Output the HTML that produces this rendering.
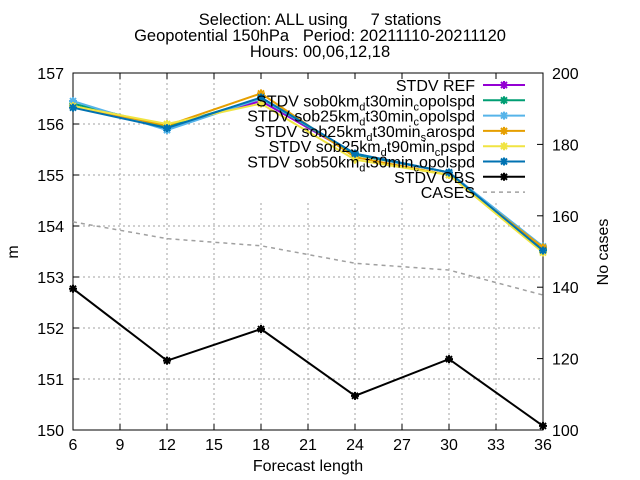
<!DOCTYPE html>
<html><head><meta charset="utf-8"><style>body{margin:0;background:#fff}svg{display:block;font-family:"Liberation Sans",sans-serif}</style></head>
<body>
<svg id="chart" width="640" height="480" xmlns="http://www.w3.org/2000/svg">
<g font-size="16.5" text-anchor="middle" fill="#000">
<text x="320" y="25" xml:space="preserve">Selection: ALL using     7 stations</text>
<text x="320" y="41" xml:space="preserve">Geopotential 150hPa   Period: 20211110-20211120</text>
<text x="320" y="57">Hours: 00,06,12,18</text>
</g>
<g id="grid"></g>
<rect x="231" y="74" width="311" height="126" fill="#fff"/>
<g id="axes"></g>
<g id="series"></g>
<g id="legend" font-size="16"></g>
<text x="308" y="471" font-size="16" text-anchor="middle">Forecast length</text>
<text transform="translate(18,252) rotate(-90)" font-size="16" text-anchor="middle">m</text>
<text transform="translate(608,252) rotate(-90)" font-size="16" text-anchor="middle">No cases</text>
</svg>
<script>
const xs=[6,12,18,24,30,36];
const ref=[156.35,155.95,156.45,155.40,155.05,153.55];
const sob0=[156.40,155.95,156.50,155.40,155.05,153.55];
const sob25=[156.45,155.88,156.50,155.42,155.05,153.60];
const saro=[156.35,155.97,156.60,155.35,155.00,153.58];
const t90=[156.35,156.00,156.40,155.30,155.00,153.48];
const sob50=[156.32,155.92,156.52,155.42,155.05,153.52];
const obs=[152.77,151.36,151.98,150.67,151.39,150.08];
const cases=[158.3,153.6,151.6,146.7,144.8,137.8];
const xTicks=[6,9,12,15,18,21,24,27,30,33,36];
const yTicks=[150,151,152,153,154,155,156,157];
const y2Ticks=[100,120,140,160,180,200];
const L=73,R=543,T=73,B=430;
const X=v=>L+(v-6)/30*(R-L);
const Y=v=>B-(v-150)/7*(B-T);
const Y2=v=>B-(v-100)/100*(B-T);
const NS="http://www.w3.org/2000/svg";
function mk(t,a,p){const e=document.createElementNS(NS,t);for(const k in a)e.setAttribute(k,a[k]);p.appendChild(e);return e;}
const grid=document.getElementById('grid'),axes=document.getElementById('axes'),ser=document.getElementById('series'),leg=document.getElementById('legend');
xTicks.forEach(t=>{const x=X(t);
const g=mk('line',{x1:x,x2:x,y1:T,y2:B,stroke:'#a0a0a0','stroke-dasharray':'2,3','stroke-width':1},grid);


mk('line',{x1:x,x2:x,y1:B,y2:B-6,stroke:'#000'},axes);mk('line',{x1:x,x2:x,y1:T,y2:T+6,stroke:'#000'},axes);
const l=mk('text',{x:x,y:B+20,'font-size':16,'text-anchor':'middle'},axes);l.textContent=t;

});
yTicks.forEach(t=>{const y=Y(t);
const g=mk('line',{x1:L,x2:R,y1:y,y2:y,stroke:'#a0a0a0','stroke-dasharray':'2,3','stroke-width':1},grid);


mk('line',{x1:L,x2:L+6,y1:y,y2:y,stroke:'#000'},axes);
const l=mk('text',{x:L-9,y:y+6,'font-size':16,'text-anchor':'end'},axes);l.textContent=t;

});
y2Ticks.forEach(t=>{const y=Y2(t);
mk('line',{x1:R,x2:R-6,y1:y,y2:y,stroke:'#000'},axes);
const l=mk('text',{x:R+9,y:y+6,'font-size':16},axes);l.textContent=t;

});
const fr=mk('rect',{x:L,y:T,width:R-L,height:B-T,fill:'none',stroke:'#000'},axes);


function star(x,y,c,p){mk('path',{d:`M${x-4},${y}h8M${x},${y-4}v8M${x-3},${y-3}l6,6M${x-3},${y+3}l6,-6`,stroke:c,'stroke-width':2,fill:'none'},p);}
function line(vals,c,name,yf,dash){const g=mk('g',{},ser);


const pts=vals.map((v,i)=>X(xs[i])+','+yf(v)).join(' ');
const a={points:pts,fill:'none',stroke:c,'stroke-width':dash?1.5:2};if(dash)a['stroke-dasharray']='4,4';mk('polyline',a,g);
if(!dash)vals.forEach((v,i)=>star(X(xs[i]),yf(v),c,g));}
line(cases,'#a0a0a0','series-cases',Y2,true);
line(obs,'#000','series-stdv-obs',Y);
line(ref,'#9400d3','series-stdv-ref',Y);
line(sob0,'#009e73','series-sob0km',Y);
line(sob25,'#56b4e9','series-sob25km',Y);
line(saro,'#e69f00','series-sob25km-saro',Y);
line(t90,'#f0e442','series-sob25km-t90',Y);
line(sob50,'#0072b2','series-sob50km',Y);
const items=[['STDV REF','#9400d3'],['STDV sob0km<sub>d</sub>t30min<sub>c</sub>opolspd','#009e73'],['STDV sob25km<sub>d</sub>t30min<sub>c</sub>opolspd','#56b4e9'],['STDV sob25km<sub>d</sub>t30min<sub>s</sub>arospd','#e69f00'],['STDV sob25km<sub>d</sub>t90min<sub>c</sub>pspd','#f0e442'],['STDV sob50km<sub>d</sub>t30min<sub>c</sub>opolspd','#0072b2'],['STDV OBS','#000'],['CASES','#a0a0a0']];
items.forEach((it,i)=>{const y=85+i*15.3;const g=mk('g',{},leg);


const t=mk('text',{x:475,y:y+6,'text-anchor':'end'},g);
it[0].split(/(<sub>.<\/sub>)/).forEach(p=>{if(!p)return;const m=p.match(/<sub>(.)<\/sub>/);const s=mk('tspan',{},t);
if(m){s.textContent=m[1];s.setAttribute('font-size','11');s.setAttribute('dy','4');}else{s.textContent=p;if(t.childNodes.length>1&&t.childNodes[t.childNodes.length-2].getAttribute('dy')==='4')s.setAttribute('dy','-4');}});
if(i==7){mk('line',{x1:483,x2:525,y1:y,y2:y,stroke:it[1],'stroke-width':1.5,'stroke-dasharray':'4,4'},g);}
else{mk('line',{x1:483,x2:525,y1:y,y2:y,stroke:it[1],'stroke-width':2},g);star(504,y,it[1],g);}});
</script>
</body></html>
